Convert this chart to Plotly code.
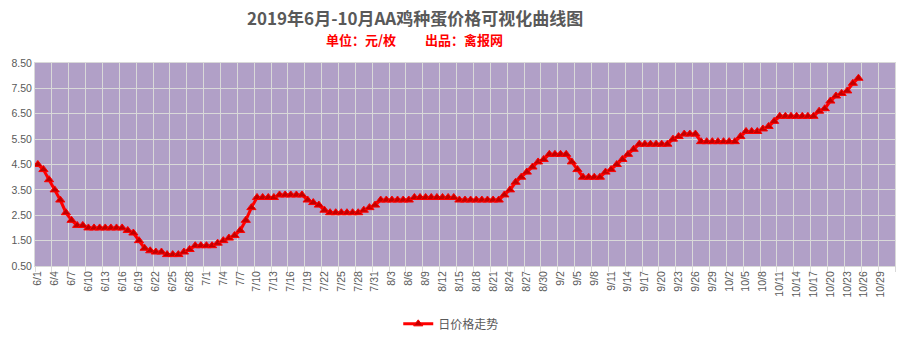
import pandas as pd
import plotly.graph_objects as go

# Daily AA breeder-egg price (yuan per egg), starting 2019-06-01
start_date = "2019-06-01"
prices = [
    4.5, 4.3, 3.9, 3.5, 3.1, 2.6, 2.3, 2.1, 2.1,
    2.0, 2.0, 2.0, 2.0, 2.0, 2.0, 2.0,
    1.9, 1.8, 1.5, 1.2, 1.1, 1.05, 1.05, 0.95, 0.95, 0.95, 1.05, 1.15,
    1.3, 1.3, 1.3, 1.3, 1.4, 1.5, 1.6, 1.7, 1.9, 2.3, 2.8,
    3.2, 3.2, 3.2, 3.2,
    3.3, 3.3, 3.3, 3.3, 3.3,
    3.1, 3.0, 2.9, 2.7,
    2.6, 2.6, 2.6, 2.6, 2.6, 2.6,
    2.7, 2.8, 2.9,
    3.1, 3.1, 3.1, 3.1, 3.1, 3.1,
    3.2, 3.2, 3.2, 3.2, 3.2, 3.2, 3.2, 3.2,
    3.1, 3.1, 3.1, 3.1, 3.1, 3.1, 3.1, 3.1,
    3.3, 3.5, 3.8, 4.0, 4.2, 4.4, 4.6, 4.7,
    4.9, 4.9, 4.9, 4.9,
    4.6, 4.3,
    4.0, 4.0, 4.0, 4.0,
    4.2, 4.3, 4.5, 4.7, 4.9, 5.1,
    5.3, 5.3, 5.3, 5.3, 5.3, 5.3,
    5.5, 5.6, 5.7, 5.7, 5.7,
    5.4, 5.4, 5.4, 5.4, 5.4, 5.4, 5.4,
    5.6, 5.8, 5.8, 5.8, 5.9, 6.0, 6.2,
    6.4, 6.4, 6.4, 6.4, 6.4, 6.4, 6.4,
    6.6, 6.7, 7.0, 7.2, 7.3, 7.4, 7.7, 7.9,
]
dates = pd.date_range(start_date, periods=len(prices), freq="D")

series_name = "日价格走势"
title_text = "2019年6月-10月AA鸡种蛋价格可视化曲线图"
unit_text = "单位：元/枚"
source_text = "出品：禽报网"

DAY_MS = 86400000
grey = "#595959"
grid = "#D9D9D9"
cjk = "Noto Sans CJK SC, sans-serif"

fig = go.Figure(
    go.Scatter(
        x=dates,
        y=prices,
        mode="lines+markers",
        name=series_name,
        line=dict(color="#FF0000", width=3),
        marker=dict(symbol="triangle-up", size=8, color="#C00000",
                    line=dict(color="#FF0000", width=1)),
    )
)

subtitle = unit_text + "\u3000\u3000&nbsp;" + source_text

fig.update_layout(
    width=906,
    height=349,
    margin=dict(l=35, r=11, t=63, b=74),
    paper_bgcolor="white",
    plot_bgcolor="#B1A0C7",
    font=dict(family="Liberation Sans, Arial, sans-serif", color=grey, size=11),
    showlegend=True,
    legend=dict(orientation="h", x=0.484, xanchor="center", y=-0.285,
                yanchor="middle", font=dict(size=12, color=grey, family=cjk)),
    annotations=[
        dict(text="<b>" + title_text + "</b>", xref="paper", yref="paper",
             x=(415 - 35) / 860, y=1 + (63 - 15.5) / 212, xanchor="center",
             yanchor="middle", showarrow=False,
             font=dict(family=cjk, size=17, color=grey)),
        dict(text="<b>" + subtitle + "</b>", xref="paper", yref="paper",
             x=(414 - 35) / 860, y=1 + (63 - 38.5) / 212, xanchor="center",
             yanchor="middle", showarrow=False,
             font=dict(family=cjk, size=13, color="#FF0000")),
    ],
)

fig.update_xaxes(
    type="date",
    range=["2019-05-31 12:00", "2019-10-31 12:00"],
    tick0=start_date,
    dtick=3 * DAY_MS,
    tickformat="%-m/%-d",
    tickangle=-90,
    tickfont=dict(size=10.5, color=grey),
    ticks="",
    showgrid=False,
    showline=True,
    linecolor=grid,
    linewidth=1,
    mirror=True,
    minor=dict(tick0="2019-05-31 12:00", dtick=3 * DAY_MS, showgrid=True,
               gridcolor=grid, gridwidth=1, ticks="outside", ticklen=5,
               tickcolor=grid),
)

fig.update_yaxes(
    range=[0.5, 8.5],
    tick0=0.5,
    dtick=1,
    tickformat=".2f",
    tickfont=dict(size=10.5, color=grey),
    showgrid=True,
    gridcolor=grid,
    gridwidth=1,
    zeroline=False,
    showline=True,
    linecolor=grid,
    linewidth=1,
    mirror=True,
)

fig.write_html("out.html")
